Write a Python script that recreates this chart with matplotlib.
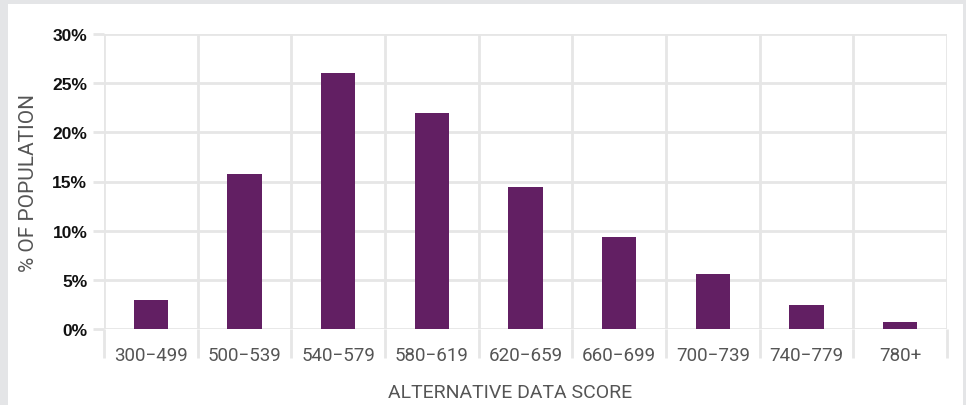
import numpy as np
import matplotlib.pyplot as plt
from matplotlib.patches import Rectangle

plt.rcParams['font.family'] = ['Roboto', 'DejaVu Sans']

score_bands = ["300\u2212499", "500\u2212539", "540\u2212579", "580\u2212619", "620\u2212659",
               "660\u2212699", "700\u2212739", "740\u2212779", "780+"]
pct_population = [3.0, 15.8, 26.0, 22.0, 14.4, 9.35, 5.6, 2.45, 0.7]
y_ticks = [0, 5, 10, 15, 20, 25, 30]

bar_color = "#621f63"
grid_color = "#e6e6e6"

fig = plt.figure(figsize=(9.66, 4.06), dpi=100, facecolor="#e4e5e7")
# white card on grey page
fig.add_artist(Rectangle((8 / 966, 0), 955 / 966, 1 - 5 / 406,
                         transform=fig.transFigure, facecolor="white",
                         edgecolor="none", zorder=-5))

ax = fig.add_axes([104 / 966, 1 - 330 / 406, 843 / 966, 295 / 406])
ax.set_facecolor("none")

x = np.arange(len(score_bands))
ax.bar(x, pct_population, width=0.365, color=bar_color, zorder=3)

ax.set_xlim(-0.5, len(score_bands) - 0.5)
ax.set_ylim(0, 30)

# category labels centred, boundary lines drawn as minor ticks + grid
ax.set_xticks(x)
ax.set_xticklabels(score_bands)
ax.set_xticks(np.arange(-0.5, len(score_bands)), minor=True)
ax.tick_params(axis="x", which="major", length=0, pad=12, labelsize=13.5,
               labelcolor="#555555")
ax.tick_params(axis="x", which="minor", length=21, width=2, color=grid_color)
ax.grid(axis="x", which="minor", color=grid_color, linewidth=2, zorder=0)

ax.set_yticks(y_ticks)
ax.set_yticklabels([f"{v}%" for v in y_ticks], fontweight="bold",
                   family="Liberation Sans")
ax.tick_params(axis="y", length=8, width=2, color=grid_color, pad=4,
               labelsize=12.5, labelcolor="#111111")
ax.grid(axis="y", which="major", color=grid_color, linewidth=2, zorder=0)

for s in ax.spines.values():
    s.set_visible(False)

ax.set_xlabel("ALTERNATIVE DATA SCORE", fontsize=14, color="#555555", labelpad=14)
ax.xaxis.label.set_x(0.482)
ax.set_ylabel("% OF POPULATION", fontsize=15, color="#555555", labelpad=10)

fig.savefig("out.png", dpi=100, facecolor=fig.get_facecolor())
